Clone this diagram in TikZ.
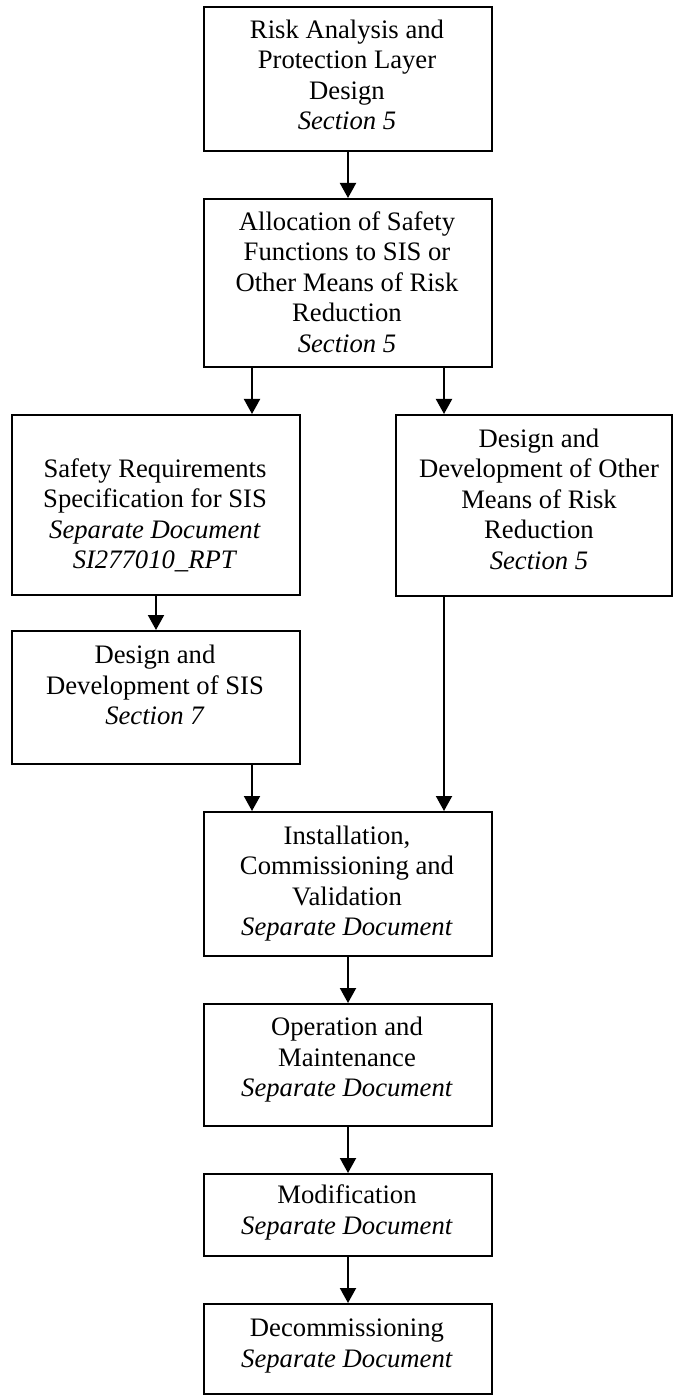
\documentclass[tikz,border=0pt]{standalone}
\usepackage{fontspec}
\setmainfont{Liberation Serif}
\usetikzlibrary{arrows.meta}
\begin{document}
\begin{tikzpicture}[x=0.5pt,y=-0.5pt,
  box/.style={draw, line width=1pt, rectangle, inner sep=0pt, anchor=north west},
  txt/.style={align=center, inner sep=0pt, font=\fontsize{13.33pt}{15.25pt}\selectfont},
  arr/.style={-{Triangle[width=8pt,length=7.5pt]}, line width=1pt}]
\useasboundingbox (0,0) rectangle (673,1395);
% boxes
\node[box, minimum width=144pt, minimum height=72pt]   (b1) at (203,6) {};
\node[box, minimum width=144pt, minimum height=84pt]   (b2) at (203,198) {};
\node[box, minimum width=144pt, minimum height=90pt]   (b3) at (11,414) {};
\node[box, minimum width=138pt, minimum height=90.5pt] (b4) at (395,414) {};
\node[box, minimum width=144pt, minimum height=66.5pt] (b5) at (11,630) {};
\node[box, minimum width=144pt, minimum height=72pt]   (b6) at (203,811) {};
\node[box, minimum width=144pt, minimum height=61pt]   (b7) at (203,1003) {};
\node[box, minimum width=144pt, minimum height=41pt]   (b8) at (203,1173) {};
\node[box, minimum width=144pt, minimum height=45pt]   (b9) at (203,1303) {};
% texts
\node[txt] (t1) at (347,78) {\strut Risk Analysis and\\Protection Layer\\Design\\\textit{Section 5}\strut};
\node[txt] (t2) at (347,285) {\strut Allocation of Safety\\Functions to SIS or\\Other Means of Risk\\Reduction\\\textit{Section 5}\strut};
\node[txt] (t3) at (155,517) {\strut Safety Requirements\\Specification for SIS\\\textit{Separate Document}\\\textit{SI277010\_RPT}\strut};
\node[txt] (t4) at (539,502) {\strut Design and\\Development of Other\\Means of Risk\\Reduction\\\textit{Section 5}\strut};
\node[txt] (t5) at (155,688) {\strut Design and\\Development of SIS\\\textit{Section 7}\strut};
\node[txt] (t6) at (347,884) {\strut Installation,\\Commissioning and\\Validation\\\textit{Separate Document}\strut};
\node[txt] (t7) at (347,1060) {\strut Operation and\\Maintenance\\\textit{Separate Document}\strut};
\node[txt] (t8) at (347,1213) {\strut Modification\\\textit{Separate Document}\strut};
\node[txt] (t9) at (347,1346) {\strut Decommissioning\\\textit{Separate Document}\strut};
% connectors
\draw[arr] (b1.south) -- (b2.north);
\draw[arr] ([xshift=-48pt]b2.south) -- ([xshift=-48pt]b2.south |- b3.north);
\draw[arr] ([xshift=48pt]b2.south) -- ([xshift=48pt]b2.south |- b4.north);
\draw[arr] (b3.south) -- (b5.north);
\draw[arr] ([xshift=48pt]b5.south) -- ([xshift=48pt]b5.south |- b6.north);
\draw[arr] ([xshift=-45pt]b4.south) -- ([xshift=-45pt]b4.south |- b6.north);
\draw[arr] (b6.south) -- (b7.north);
\draw[arr] (b7.south) -- (b8.north);
\draw[arr] (b8.south) -- (b9.north);
\end{tikzpicture}
\end{document}
